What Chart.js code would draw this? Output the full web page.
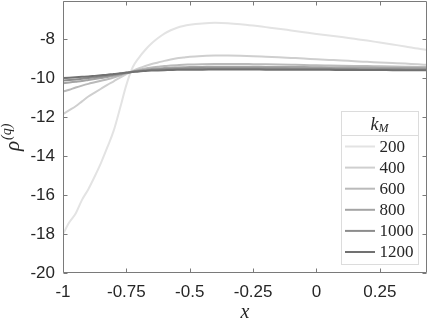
<!DOCTYPE html>
<html><head><meta charset="utf-8">
<script src="https://cdn.jsdelivr.net/npm/chart.js@4/dist/chart.umd.min.js"></script>
<style>html,body{margin:0;padding:0;background:#fff;}#wrap{width:429px;height:322px;}</style>
</head><body><div id="wrap"><canvas id="c" width="429" height="322"></canvas></div>
<script>
const xValues = [-1,-0.975,-0.95,-0.925,-0.9,-0.875,-0.85,-0.825,-0.8,-0.775,-0.75,-0.725,-0.7,-0.675,-0.65,-0.625,-0.6,-0.575,-0.55,-0.525,-0.5,-0.45,-0.4,-0.35,-0.3,-0.25,-0.2,-0.15,-0.1,-0.05,0,0.05,0.1,0.15,0.2,0.25,0.3,0.35,0.4,0.436];
const k200 = [-18.0,-17.4,-16.95,-16.25,-15.7,-15.05,-14.35,-13.55,-12.7,-11.55,-10.35,-9.45,-8.95,-8.55,-8.22,-7.95,-7.72,-7.55,-7.42,-7.33,-7.27,-7.2,-7.17,-7.19,-7.24,-7.31,-7.39,-7.47,-7.56,-7.65,-7.74,-7.82,-7.9,-7.99,-8.08,-8.18,-8.28,-8.38,-8.49,-8.56];
const k400 = [-11.85,-11.65,-11.45,-11.2,-10.95,-10.75,-10.55,-10.35,-10.17,-9.98,-9.8,-9.64,-9.5,-9.38,-9.28,-9.2,-9.12,-9.05,-8.99,-8.95,-8.91,-8.87,-8.85,-8.85,-8.86,-8.88,-8.91,-8.94,-8.97,-9.0,-9.04,-9.07,-9.1,-9.14,-9.17,-9.2,-9.23,-9.26,-9.3,-9.32];
const k600 = [-10.7,-10.6,-10.49,-10.39,-10.3,-10.22,-10.14,-10.06,-9.97,-9.87,-9.76,-9.66,-9.58,-9.51,-9.46,-9.42,-9.38,-9.36,-9.34,-9.32,-9.31,-9.29,-9.28,-9.28,-9.28,-9.29,-9.3,-9.31,-9.32,-9.33,-9.35,-9.36,-9.37,-9.38,-9.39,-9.4,-9.41,-9.42,-9.43,-9.44];
const k800 = [-10.27,-10.23,-10.19,-10.15,-10.1,-10.05,-10.0,-9.95,-9.89,-9.82,-9.75,-9.68,-9.62,-9.57,-9.54,-9.51,-9.49,-9.47,-9.46,-9.45,-9.44,-9.43,-9.42,-9.42,-9.42,-9.42,-9.43,-9.43,-9.44,-9.44,-9.45,-9.46,-9.46,-9.47,-9.47,-9.48,-9.48,-9.49,-9.49,-9.5];
const k1000 = [-10.13,-10.1,-10.07,-10.04,-10.0,-9.96,-9.92,-9.88,-9.83,-9.78,-9.73,-9.68,-9.64,-9.61,-9.58,-9.56,-9.55,-9.54,-9.53,-9.52,-9.51,-9.5,-9.5,-9.5,-9.5,-9.5,-9.51,-9.51,-9.52,-9.52,-9.53,-9.53,-9.54,-9.54,-9.55,-9.55,-9.55,-9.56,-9.56,-9.56];
const k1200 = [-10.0,-9.98,-9.96,-9.94,-9.92,-9.89,-9.86,-9.83,-9.79,-9.76,-9.72,-9.69,-9.66,-9.64,-9.62,-9.61,-9.6,-9.59,-9.58,-9.58,-9.57,-9.57,-9.56,-9.56,-9.56,-9.56,-9.57,-9.57,-9.57,-9.58,-9.58,-9.58,-9.59,-9.59,-9.59,-9.59,-9.6,-9.6,-9.6,-9.6];
const seriesValues = [k200, k400, k600, k800, k1000, k1200];
const seriesLabels = ['200','400','600','800','1000','1200'];
const seriesColors = ['#e3e3e3','#cfcfcf','#bababa','#a4a4a4','#8c8c8c','#717171'];
const xTicks = [-1,-0.75,-0.5,-0.25,0,0.25];
const yTicks = [-20,-18,-16,-14,-12,-10,-8];
const legendTitle = 'k';
const legendTitleSub = 'M';
const xTitle = 'x';
const yTitle = 'ρ';
const yTitleSup = '(q)';

const AX = '#7a7a7a';
const TXT = '#262626';
const SERIF = '"Liberation Serif", "DejaVu Serif", serif';
const SANS = '"Liberation Sans", Arial, sans-serif';

const datasets = seriesValues.map((vals, i) => ({
  label: seriesLabels[i],
  data: xValues.map((x, j) => ({x: x, y: vals[j]})),
  borderColor: seriesColors[i],
  borderWidth: 2,
  pointRadius: 0,
  cubicInterpolationMode: 'monotone',
  fill: false,
  order: seriesValues.length - i
}));

const decor = {
  id: 'decor',
  afterDatasetsDraw(chart) {
    const ctx = chart.ctx, a = chart.chartArea;
    const xs = chart.scales.x, ys = chart.scales.y;
    ctx.save();
    ctx.strokeStyle = AX; ctx.lineWidth = 1;
    const L = Math.round(a.left) + 0.5, R = Math.round(a.right) - 0.5, T = Math.round(a.top) + 0.5, B = Math.round(a.bottom) - 0.5;
    ctx.beginPath();
    ctx.moveTo(L, T); ctx.lineTo(R, T); ctx.lineTo(R, B); ctx.lineTo(L, B); ctx.closePath();
    ctx.stroke();
    const tl = 4;
    ctx.beginPath();
    xTicks.forEach(v => {
      const p = Math.round(xs.getPixelForValue(v)) + 0.5;
      ctx.moveTo(p, B); ctx.lineTo(p, B - tl);
      ctx.moveTo(p, T); ctx.lineTo(p, T + tl);
    });
    yTicks.forEach(v => {
      const p = Math.round(ys.getPixelForValue(v)) + 0.5;
      ctx.moveTo(L, p); ctx.lineTo(L + tl, p);
      ctx.moveTo(R, p); ctx.lineTo(R - tl, p);
    });
    ctx.stroke();

    // axis titles
    ctx.fillStyle = TXT;
    ctx.font = 'italic 20px ' + SERIF;
    ctx.textAlign = 'center'; ctx.textBaseline = 'alphabetic';
    ctx.fillText(xTitle, (a.left + a.right) / 2, 318);

    ctx.save();
    ctx.translate(19, 151);
    ctx.rotate(-Math.PI / 2);
    ctx.textAlign = 'left';
    ctx.font = 'italic 21px ' + SERIF;
    ctx.fillText(yTitle, 0, 0);
    const w = ctx.measureText(yTitle).width;
    ctx.font = 'italic 14px ' + SERIF;
    ctx.fillText(yTitleSup, w + 1, -8);
    ctx.restore();

    // legend
    const lw = 77, lh = 153;
    const lx = Math.round(a.right) - 9 - lw, ly = Math.round(a.bottom) - 9 - lh;
    ctx.fillStyle = '#ffffff';
    ctx.fillRect(lx, ly, lw, lh);
    ctx.strokeStyle = '#dcdcdc'; ctx.lineWidth = 1;
    ctx.strokeRect(lx + 0.5, ly + 0.5, lw, lh);
    ctx.beginPath(); ctx.moveTo(lx, ly + 24.5); ctx.lineTo(lx + lw, ly + 24.5); ctx.stroke();

    ctx.fillStyle = TXT;
    ctx.textBaseline = 'alphabetic';
    ctx.font = 'italic 18px ' + SERIF;
    const kw = ctx.measureText(legendTitle).width;
    ctx.font = 'italic 12px ' + SERIF;
    const mw = ctx.measureText(legendTitleSub).width;
    const tx = lx + lw / 2 - (kw + mw) / 2;
    ctx.textAlign = 'left';
    ctx.font = 'italic 18px ' + SERIF;
    ctx.fillText(legendTitle, tx, ly + 19);
    ctx.font = 'italic 12px ' + SERIF;
    ctx.fillText(legendTitleSub, tx + kw, ly + 21);

    ctx.font = '17px ' + SERIF;
    ctx.textBaseline = 'middle';
    seriesLabels.forEach((lab, i) => {
      const y = ly + 35.5 + i * 21.1;
      ctx.strokeStyle = seriesColors[i]; ctx.lineWidth = 2;
      ctx.beginPath(); ctx.moveTo(lx + 4, y); ctx.lineTo(lx + 34, y); ctx.stroke();
      ctx.fillStyle = TXT;
      ctx.fillText(lab, lx + 38.5, y + 1);
    });
    ctx.restore();
  }
};

new Chart(document.getElementById('c'), {
  type: 'line',
  data: { datasets: datasets },
  options: {
    responsive: false,
    animation: false,
    devicePixelRatio: 1,
    layout: { padding: { top: 1, right: 2, left: 0, bottom: 0 } },
    plugins: { legend: { display: false }, tooltip: { enabled: false } },
    scales: {
      x: {
        type: 'linear', min: -1, max: 0.436,
        afterBuildTicks: s => { s.ticks = xTicks.map(v => ({value: v})); },
        afterFit: s => { s.height = 49; s.paddingLeft = 0; s.paddingRight = 0; },
        grid: { display: false, drawTicks: false },
        border: { display: false },
        ticks: { font: { family: SANS, size: 17 }, color: TXT, padding: 9, maxRotation: 0, autoSkip: false, callback: v => String(v) }
      },
      y: {
        type: 'linear', min: -20, max: -6.05,
        afterBuildTicks: s => { s.ticks = yTicks.map(v => ({value: v})); },
        afterFit: s => { s.width = 63; s.paddingTop = 0; s.paddingBottom = 0; },
        grid: { display: false, drawTicks: false },
        border: { display: false },
        ticks: { font: { family: SANS, size: 17 }, color: TXT, padding: 8, autoSkip: false, callback: v => String(v) }
      }
    }
  },
  plugins: [decor]
});
</script>
</body></html>
